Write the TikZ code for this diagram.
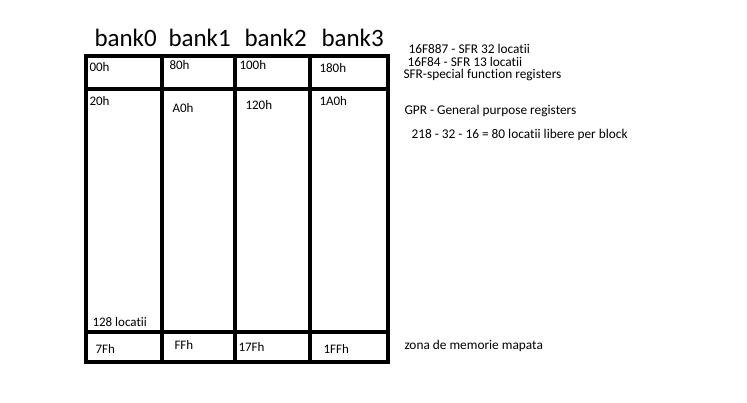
\documentclass[tikz,border=0pt]{standalone}
\usepackage{fontspec}
\setmainfont{Carlito}[Ligatures=NoCommon]

\tikzset{every picture/.style={line width=0.75pt}}
\tikzset{
  gridline/.style={line width=3.6pt, line cap=rect},
  banklbl/.style={anchor=base west, inner sep=0pt, font=\fontsize{18.75pt}{20pt}\selectfont},
  celllbl/.style={anchor=base west, inner sep=0pt, font=\fontsize{9.75pt}{11pt}\selectfont},
  notelbl/.style={anchor=base west, inner sep=0pt, font=\fontsize{10pt}{11pt}\selectfont}
}

\begin{document}
\begin{tikzpicture}[x=0.75pt,y=0.75pt,yscale=-1,xscale=1]
\useasboundingbox (0,0) rectangle (747,403);

%Rect outer frame
\draw [gridline] (86,56) rectangle (388,362) ;
%Straight Lines rows
\draw [gridline] (86,89) -- (388,89) ;
\draw [gridline] (86,332) -- (388,332) ;
%Straight Lines columns
\draw [gridline] (162,56) -- (162,362) ;
\draw [gridline] (235,56) -- (235,362) ;
\draw [gridline] (310,56) -- (310,362) ;

% Text Node
\node [banklbl] (bank0) at (94,47) {bank0};
% Text Node
\node [banklbl] (bank1) at (168,47) {bank1};
% Text Node
\node [banklbl] (bank2) at (244,47) {bank2};
% Text Node
\node [banklbl] (bank3) at (321,47) {bank3};

% Text Node
\node [celllbl] (sfr0) at (89,72) {00h};
% Text Node
\node [celllbl] (sfr1) at (169,70) {80h};
% Text Node
\node [celllbl] (sfr2) at (239,70) {100h};
% Text Node
\node [celllbl] (sfr3) at (319,73) {180h};
% Text Node
\node [celllbl] (gpr0) at (89,106) {20h};
% Text Node
\node [celllbl] (gpr1) at (172,113) {A0h};
% Text Node
\node [celllbl] (gpr2) at (245,110) {120h};
% Text Node
\node [celllbl] (gpr3) at (319,106) {1A0h};
% Text Node
\node [celllbl] (cnt0) at (92,326) {128 locatii};
% Text Node
\node [celllbl] (end0) at (95,353) {7Fh};
% Text Node
\node [celllbl] (end1) at (174,349) {FFh};
% Text Node
\node [celllbl] (end2) at (238,351) {17Fh};
% Text Node
\node [celllbl] (end3) at (323,353) {1FFh};

% Text Node
\node [notelbl] (n887) at (408,54) {16F887 - SFR 32 locatii};
% Text Node
\node [notelbl] (n84) at (407,67) {16F84 - SFR 13 locatii};
% Text Node
\node [notelbl] (nsfr) at (403,78.5) {SFR-special function registers};
% Text Node
\node [notelbl] (ngpr) at (404,115) {GPR - General purpose registers};
% Text Node
\node [notelbl] (nfree) at (411,138) {218 - 32 - 16 = 80 locatii libere per block};
% Text Node
\node [notelbl] (nmap) at (404,349) {zona de memorie mapata};

\end{tikzpicture}
\end{document}
